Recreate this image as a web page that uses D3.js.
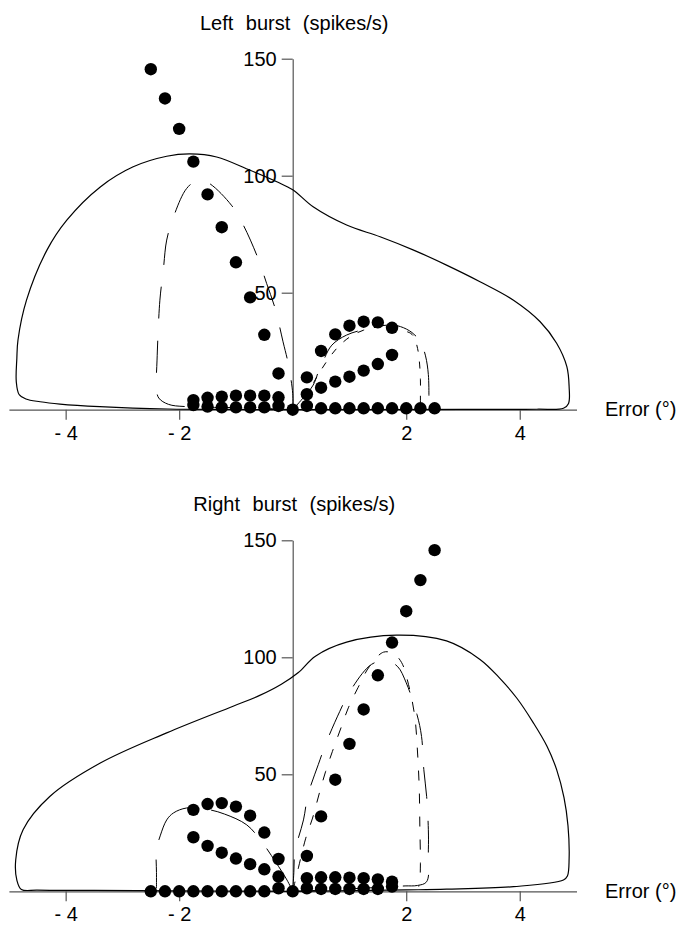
<!DOCTYPE html>
<html>
<head>
<meta charset="utf-8">
<script src="https://cdn.jsdelivr.net/npm/d3@7/dist/d3.min.js"></script>
<style>
  body { margin: 0; background: #fff; }
  svg { display: block; font-family: "Liberation Sans", Arial, Helvetica, sans-serif; }
</style>
</head>
<body>
<svg id="chart" width="679" height="925"></svg>
<script>
// ---- Left burst (top panel) ----
var leftSteepX = [-2.5, -2.25, -2, -1.75, -1.5, -1.25, -1, -0.75, -0.5, -0.25, 0];
var leftSteepY = [145.5, 133, 120, 106, 92, 78, 63, 48, 32, 15.5, 0];
var leftNegX = [-1.75, -1.5, -1.25, -1, -0.75, -0.5, -0.25];
var leftNegUpperY = [4.1, 5.1, 5.6, 6, 6, 6, 5.3];
var leftNegLowerY = [2, 1.3, 1, 1, 1, 1, 1.6];
var leftPosX = [0.25, 0.5, 0.75, 1, 1.25, 1.5, 1.75];
var leftArcY = [13.8, 25.1, 32.2, 35.9, 37.6, 37.3, 35];
var leftRampY = [6.6, 9.4, 12, 14.1, 16.7, 19.5, 23.4];
var leftZeroX = [0.25, 0.5, 0.75, 1, 1.25, 1.5, 1.75, 2, 2.25, 2.5];
var leftZeroY = [1.6, 0.6, 0.6, 0.6, 0.6, 0.6, 0.6, 0.6, 0.6, 0.6];

// model trajectories, [error, rate]
var leftModelLoop = [[0,0],[-1,0.1],[-2.2,0.3],[-3.4,1.3],[-4.1,2.4],[-4.45,3.4],[-4.7,4.6],[-4.82,6.5],
  [-4.87,12],[-4.86,22],[-4.84,29.8],[-4.69,46.8],[-4.33,68.2],[-3.98,81],[-3.39,95.2],[-2.81,103.8],
  [-2.22,108.3],[-1.81,109.3],[-1.34,108],[-0.75,102.3],[-0.28,97.4],[0,94],[0.36,86.7],[0.95,78.9],
  [1.54,73.9],[2.13,68.2],[2.71,61.8],[3.3,54.7],[3.89,46.8],[4.36,37.6],[4.65,28.4],[4.83,18.4],
  [4.87,9.8],[4.86,2.7],[4.77,0.6],[4.3,0.2],[3,0.1],[0,0]];
var leftDashLoop = [[0,0],[-0.8,0.8],[-1.87,1.3],[-2.19,2.3],[-2.36,5],[-2.4,9.1],[-2.39,21.2],
  [-2.34,46.8],[-2.28,59.6],[-2.22,72.5],[-2.1,82.4],[-1.87,94.5],[-1.68,98],[-1.49,97],[-1.08,87.4],
  [-0.87,78.9],[-0.6,64],[-0.46,54],[-0.31,43.3],[-0.17,29],[-0.08,19.8],[0,7],[0,0]];
var leftDashArc = [[0,0],[0.2,5.5],[0.36,10.5],[0.45,16],[0.55,21.5],[0.69,27.6],[0.95,31.9],
  [1.3,34.5],[1.71,36.2],[1.9,35.5],[2.1,33],[2.25,29],[2.34,23],[2.39,15],[2.4,6]];
var leftShortArc = [[0,0],[0.3,9],[0.5,17],[0.75,25.5],[1,31],[1.25,34],[1.5,35.3],[1.75,35],
  [1.95,33.8],[2.08,32.6],[2.14,30.9],[2.2,26.2],[2.23,21],[2.25,13],[2.25,5],[2.25,0.5]];

// ---- Right burst (bottom panel) ----
var rightSteepX = [0, 0.25, 0.5, 0.75, 1, 1.25, 1.5, 1.75, 2, 2.25, 2.5];
var rightSteepY = [0, 15.1, 32, 47.7, 63, 77.7, 92.3, 106.3, 119.7, 133, 145.8];
var rightPosX = [0.25, 0.5, 0.75, 1, 1.25, 1.5, 1.75];
var rightPosUpperY = [5.6, 6, 6, 5.8, 5.6, 5.1, 4.1];
var rightPosLowerY = [1.3, 1, 1, 1, 1, 1, 2];
var rightNegX = [-1.75, -1.5, -1.25, -1, -0.75, -0.5, -0.25];
var rightArcY = [34.8, 37.3, 37.7, 36.2, 32.3, 25.1, 13.8];
var rightRampY = [23.1, 19.4, 16.5, 14, 11.6, 9.4, 6.3];
var rightZeroX = [-2.5, -2.25, -2, -1.75, -1.5, -1.25, -1, -0.75, -0.5, -0.25];
var rightZeroY = [0, 0, 0, 0, 0, 0, 0, 0, 0, 1.3];

var rightModelLoop = [[0,0],[-1,0.1],[-2,0.2],[-3.5,0.4],[-4.5,0.5],[-4.78,0.8],[-4.86,4.8],
  [-4.88,13.4],[-4.75,26.3],[-4.28,40.5],[-3.39,54.8],[-2.22,67.7],[-1.05,79.1],[-0.6,83.5],
  [-0.2,88.5],[0.1,93.5],[0.4,100.5],[0.95,106.5],[1.83,109.5],[2.71,107],[3.3,99.1],[3.65,91],
  [3.95,82.5],[4.24,72],[4.48,62],[4.65,52],[4.78,40],[4.85,28],[4.87,14],[4.84,6.5],[4.77,4.8],
  [3.89,2],[2.71,0.9],[2,0.6],[0,0]];
var rightDashLoop = [[0,0],[0.02,8],[0.04,17],[0.19,30.5],[0.27,41.3],[0.45,54.1],[0.6,64.1],
  [0.83,76.9],[1.01,85.5],[1.39,97],[1.66,98.5],[1.85,96],[2,89.1],[2.19,75.5],[2.27,66.2],
  [2.31,52],[2.36,40.5],[2.39,26.3],[2.39,17.7],[2.36,4.1],[2.2,2.5],[1.98,2.3],[1.77,2],[0.8,0.8],[0,0]];
var rightShortLoop = [[0,0],[0.1,10],[0.23,22.7],[0.35,31.3],[0.47,42],[0.58,51.2],[0.7,59.8],
  [0.85,69.8],[0.98,78.4],[1.15,87],[1.35,96],[1.6,102.2],[1.78,101.5],[1.92,97.7],[2.04,88.4],
  [2.15,74.8],[2.2,59.1],[2.23,43.4],[2.24,27.7],[2.25,12],[2.24,4.8],[2.22,2]];
var rightDashArc = [[0,0],[-0.1,4.8],[-0.3,12.5],[-0.55,21.3],[-0.81,28.4],[-1.2,33],[-1.5,35],
  [-1.87,35.6],[-2.1,33.5],[-2.22,30.5],[-2.33,24],[-2.4,17.7],[-2.4,8],[-2.4,1.3]];

var xTicks = [-4, -2, 2, 4];
var yTicks = [50, 100, 150];

var svg = d3.select("#chart");
var x = d3.scaleLinear().domain([-5, 5]).range([8.9, 576.5]);

function zipXY(xs, ys) {
  return xs.map(function(d, i) { return [d, ys[i]]; });
}

var panels = [
  {
    title: "Left burst (spikes/s)", y0: 409.7,
    dots: [zipXY(leftSteepX, leftSteepY), zipXY(leftNegX, leftNegUpperY), zipXY(leftNegX, leftNegLowerY),
      zipXY(leftPosX, leftArcY), zipXY(leftPosX, leftRampY), zipXY(leftZeroX, leftZeroY)],
    curves: [
      { pts: leftModelLoop, dash: null, w: 1.2 },
      { pts: leftDashLoop, dash: "32,22", w: 1 },
      { pts: leftDashArc, dash: "44,18", w: 1 },
      { pts: leftShortArc, dash: "7,10", w: 1 }
    ]
  },
  {
    title: "Right burst (spikes/s)", y0: 891.3,
    dots: [zipXY(rightSteepX, rightSteepY), zipXY(rightPosX, rightPosUpperY), zipXY(rightPosX, rightPosLowerY),
      zipXY(rightNegX, rightArcY), zipXY(rightNegX, rightRampY), zipXY(rightZeroX, rightZeroY)],
    curves: [
      { pts: rightModelLoop, dash: null, w: 1.2 },
      { pts: rightDashLoop, dash: "32,22", w: 1 },
      { pts: rightShortLoop, dash: "10,13", w: 1 },
      { pts: rightDashArc, dash: "50,20", w: 1 }
    ]
  }
];

panels.forEach(function(p) {
  var y = d3.scaleLinear().domain([0, 150]).range([p.y0, p.y0 - 351]);
  var g = svg.append("g");

  // axes
  var xAxis = g.append("g")
    .attr("transform", "translate(0," + p.y0 + ")")
    .call(d3.axisBottom(x).tickValues(xTicks).tickSize(10).tickSizeOuter(0)
      .tickFormat(function(d) { return d < 0 ? "- " + (-d) : d; }));
  xAxis.selectAll("text").attr("y", 30).attr("dy", 0);

  var yAxis = g.append("g")
    .attr("transform", "translate(" + x(0) + ",0)")
    .call(d3.axisLeft(y).tickValues(yTicks).tickSize(11).tickSizeOuter(0).tickPadding(5));

  g.selectAll(".domain, .tick line").attr("stroke", "#555").attr("stroke-width", 1.2);
  g.selectAll(".tick text").attr("font-size", 20).attr("fill", "#000")
    .attr("font-family", "Liberation Sans, Arial, sans-serif");

  g.append("text")
    .attr("x", x(0) + 1.5)
    .attr("y", y(150) - 29)
    .attr("text-anchor", "middle")
    .attr("font-size", 20)
    .attr("word-spacing", "7px")
    .text(p.title);

  g.append("text")
    .attr("x", 605)
    .attr("y", p.y0 + 6.5)
    .attr("font-size", 20)
    .text("Error (°)");

  // model curves
  var line = d3.line()
    .x(function(d) { return x(d[0]); })
    .y(function(d) { return y(d[1]); })
    .curve(d3.curveCatmullRom.alpha(0.5));

  g.selectAll(".curve")
    .data(p.curves)
    .enter().append("path")
    .attr("class", "curve")
    .attr("d", function(d) { return line(d.pts); })
    .attr("fill", "none")
    .attr("stroke", "#000")
    .attr("stroke-width", function(d) { return d.w; })
    .attr("stroke-dasharray", function(d) { return d.dash; });

  // data points
  p.dots.forEach(function(set) {
    g.append("g").selectAll("circle")
      .data(set)
      .enter().append("circle")
      .attr("cx", function(d) { return x(d[0]); })
      .attr("cy", function(d) { return y(d[1]); })
      .attr("r", 6.2)
      .attr("fill", "#000");
  });
});
</script>
</body>
</html>
